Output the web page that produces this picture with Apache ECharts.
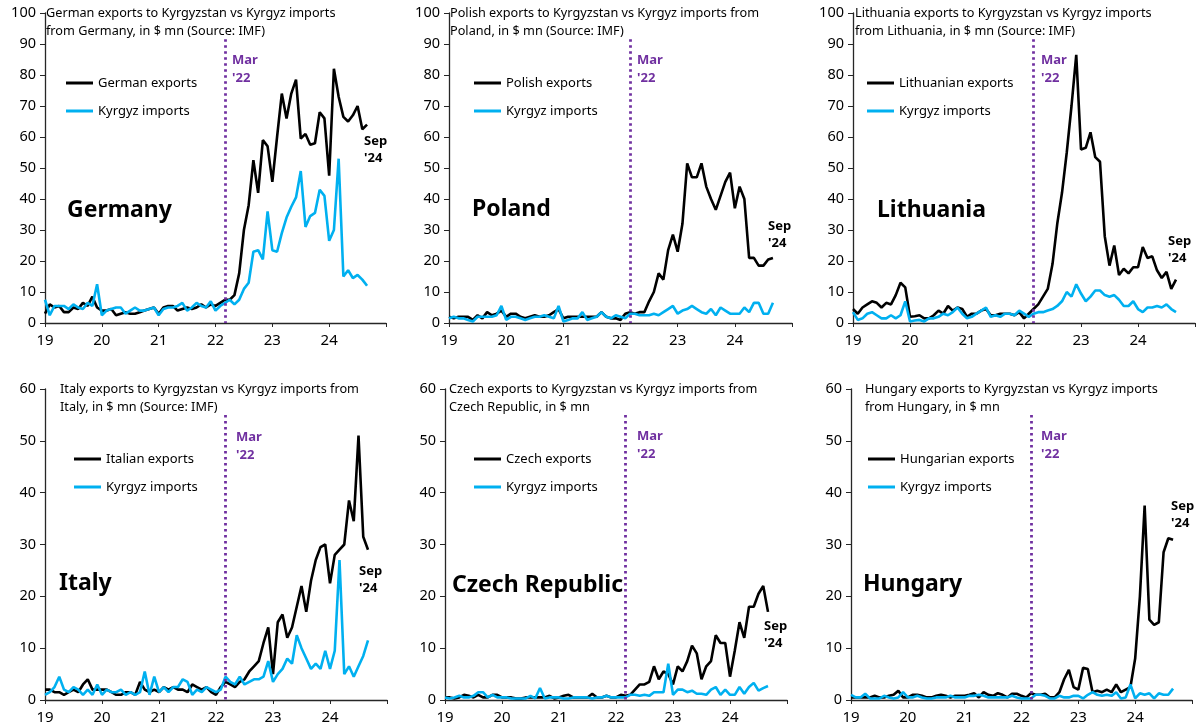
<!DOCTYPE html>
<html>
<head>
<meta charset="utf-8">
<script src="https://cdn.jsdelivr.net/npm/echarts@6/dist/echarts.min.js"></script>
<style>
  html, body { margin: 0; padding: 0; background: #fff; }
  #chart { width: 1200px; height: 725px; }
</style>
</head>
<body>
<div id="chart"></div>
<script>
// monthly values, Jan 2019 .. Sep 2024 (index 0..68), $ mn
const yearLabels = ["19", "20", "21", "22", "23", "24"];
const marchIndex = 38; // Mar '22

const germanyExports = [
  3, 6, 5, 5.5, 3.5, 3.5, 5, 4.5, 6.5, 5.5, 8.5, 5,
  4, 4, 4.5, 2.5, 3, 3.5, 3, 3, 3.5, 4, 4.5, 5,
  3, 5, 5.5, 5.5, 4, 4.5, 5, 4.5, 5, 6, 5, 6,
  5.5, 6.5, 7.5, 7.5, 9, 16, 30, 38, 52.5, 42, 59, 57,
  45.5, 60, 74, 66, 74, 78.5, 59.5, 61, 57.5, 58, 68, 66,
  47.5, 82, 73, 66.5, 65, 67, 70, 62.5, 64
];
const germanyImports = [
  7.5, 2.5, 5.5, 5.5, 5.5, 4.5, 6, 5, 4.5, 6.5, 5.5, 12.5,
  2.5, 4, 4.5, 5, 5, 3, 4, 5, 4, 4, 4.5, 5,
  2.5, 4.5, 5, 5, 5.5, 6.5, 4, 5, 6.5, 5.5, 5, 7,
  4, 5.5, 6.5, 7.5, 6, 7.5, 11, 13, 23, 23.5, 20.5, 36,
  23.5, 23, 29, 34, 37.5, 40.5, 49, 31, 34.5, 35.5, 43, 41,
  26.5, 30, 53, 15, 17, 14.5, 15.5, 14, 12
];
const polandExports = [
  2, 1.5, 2, 2, 2, 1, 2.5, 1.5, 3.5, 2.5, 3, 4,
  2, 3, 3, 2, 1.5, 2, 2.5, 2, 2, 2.5, 3.5, 4.5,
  1.5, 2, 2, 2, 2, 2, 2, 2, 3.5, 2, 1.5, 1.5,
  1, 3, 3.5, 3, 3.5, 3.5, 7, 10, 16, 14, 23.5, 28.5,
  23, 32, 51.5, 47, 47, 51.5, 44, 40, 36.5, 41, 45.5, 48.5,
  37, 44, 40, 21, 21, 18.5, 18.5, 20.5, 21
];
const polandImports = [
  1.5, 2, 1.5, 1.5, 1, 0.5, 2, 2, 2, 2, 2.5, 5.5,
  1, 2, 2, 1.5, 1, 1.5, 2, 2, 2.5, 2, 1.5, 5.5,
  0.5, 1, 1.5, 1.5, 3.5, 1, 1.5, 2, 3.5, 2, 1.5, 2.5,
  2, 1.5, 3, 3, 2.5, 2.5, 2.5, 3, 2.5, 3.5, 4.5, 5.5,
  3, 4, 4.5, 5.5, 4.5, 3.5, 3, 4.5, 2.5, 5, 4, 3,
  3, 3, 5, 3.5, 6.5, 6.5, 3, 3, 6.5
];
const lithuaniaExports = [
  4.5, 3, 5, 6, 7, 6.5, 5, 6.5, 6, 9, 13, 11.5,
  2, 2.2, 2.5, 1.5, 1.5, 2.5, 4, 3, 5.5, 4, 5, 4.5,
  2, 3, 3, 4, 4.5, 2.5, 2.5, 3, 3, 3, 2.5, 3.5,
  1.5, 3, 4.5, 6, 8.5, 11, 19, 32, 42, 55, 70, 86.5,
  56, 56.5, 61.5, 53.5, 52, 28, 18.5, 25, 15.5, 17.5, 16, 18,
  18, 24.5, 21, 21.5, 17, 14.5, 16.5, 11, 14
];
const lithuaniaImports = [
  3.5, 1, 1.5, 3, 3.5, 2.5, 1.5, 1.5, 2.5, 1.5, 2.5, 7,
  0.5, 0.8, 1, 0.5, 1.5, 1.5, 2, 3, 2.5, 3.5, 5, 3,
  1.5, 2, 3, 4, 5, 2, 2.5, 2, 3, 3, 2.5, 4,
  3, 2, 3, 3.5, 3.5, 4, 4.5, 5.5, 7, 10, 8.5, 12.5,
  9.5, 7, 8.5, 10.5, 10.5, 9, 8.5, 9, 7.5, 5.5, 5.5, 7,
  4.5, 3.5, 5, 5, 5.5, 5, 6, 4.5, 3.5
];
const italyExports = [
  2, 2, 1.5, 1.5, 1, 1.5, 2, 1.5, 3, 4, 2, 2,
  2, 2, 1.5, 1, 1, 1.5, 1.5, 1, 3.5, 2, 1.5, 2,
  1.5, 2.5, 2, 2.5, 2, 2, 1.5, 3, 2.5, 2, 2.5, 1.5,
  1, 2.5, 3.5, 3, 2.5, 3.5, 4, 5.5, 6.5, 7.5, 11, 14,
  5, 15, 16.5, 12, 14, 18, 22, 17, 23, 27, 29.5, 30,
  22.5, 28, 29, 30, 38.5, 34.5, 51, 31.5, 29
];
const italyImports = [
  1, 1.5, 2.5, 4.5, 2, 1.5, 2.5, 2, 1, 2, 1, 3,
  1, 2, 1.5, 1.5, 2, 1, 1.5, 1, 1.5, 5.5, 1, 4.5,
  1.5, 2.5, 1.5, 2.5, 2.5, 4, 3.5, 1, 2, 1.5, 2.5, 2,
  1.5, 2, 4.5, 3.5, 3, 4.5, 3, 3.5, 4, 4, 4.5, 7.5,
  3.5, 5, 6, 8, 7, 12.5, 10, 8, 6, 7, 6, 9.5,
  6, 9.5, 27, 5, 6.5, 4.5, 6.5, 8.5, 11.5
];
const czechExports = [
  0.5, 0.5, 0.3, 0.5, 1, 0.8, 0.5, 1, 0.5, 0.5, 1, 1,
  0.5, 0.5, 0.5, 0.3, 0.3, 0.5, 0.5, 0.5, 0.5, 0.5, 0.8, 0.3,
  0.5, 0.8, 1, 0.5, 0.5, 0.5, 0.5, 1.2, 0.5, 0.5, 0.8, 0.5,
  0.5, 1, 0.8, 1, 2, 3, 3, 3.5, 6.5, 4, 5.5, 5,
  3, 6.5, 5.5, 7.5, 10.5, 9, 4, 6.5, 7.5, 12.5, 11, 11,
  4.5, 9.5, 15, 12, 18, 18, 20.5, 22, 17
];
const czechImports = [
  0.5, 0.3, 0.5, 0.8, 0.5, 0.5, 0.8, 1.5, 1.5, 0.5, 1, 0.5,
  0.5, 0.5, 0.3, 0.3, 0.3, 0.3, 0.8, 0.3, 2.3, 0.3, 0.5, 0.5,
  0.5, 0.3, 0.3, 0.5, 0.5, 0.5, 0.5, 0.3, 0.5, 0.5, 0.8, 0.5,
  0.5, 0.5, 0.5, 1, 1, 0.8, 1, 0.8, 1.5, 1.5, 1.5, 7,
  1, 2, 2, 1.5, 1.8, 1.2, 1.2, 1, 2, 2.5, 1, 2,
  1, 1, 2.5, 1.2, 2.5, 3.3, 1.8, 2.3, 2.7
];
const hungaryExports = [
  0.5, 0.5, 0.5, 0.5, 0.5, 0.8, 0.5, 0.5, 0.8, 1, 1.8, 0.5,
  0.5, 1, 1, 0.8, 0.5, 0.5, 0.8, 1, 0.8, 0.5, 0.8, 0.8,
  0.8, 1, 1.3, 0.5, 1.5, 1, 0.8, 1.3, 1, 0.5, 1.2, 1.2,
  0.8, 0.5, 1.3, 1, 1, 1.2, 0.5, 0.5, 1.5, 4, 5.8, 2.5,
  2, 6.2, 6, 1.5, 1.8, 1.5, 2, 1.5, 3, 1.5, 2, 2.5,
  8, 20, 37.5, 15.5, 14.5, 15, 28.5, 31.2, 30.9
];
const hungaryImports = [
  1, 0.5, 0.5, 1.2, 0.3, 0.3, 0.3, 0.8, 0.5, 0.3, 0.5, 1.5,
  0.5, 0.5, 0.8, 0.5, 0.3, 0.3, 0.5, 0.5, 0.5, 0.8, 0.5, 0.5,
  0.5, 0.8, 0.8, 1, 0.8, 0.5, 0.5, 0.5, 0.5, 0.5, 0.8, 0.5,
  0.3, 0.3, 0.3, 1, 1, 0.8, 0.3, 0.3, 0.8, 0.5, 0.5, 0.8,
  0.8, 0.3, 1, 1.5, 1, 0.8, 1, 0.8, 1.5, 0.3, 0.5, 3,
  0.3, 1.3, 1, 1.3, 0.3, 1.3, 1, 1, 2.2
];

const panels = [
  { country: "Germany", expName: "German exports", exp: germanyExports, imp: germanyImports, yMax: 100, lineTop: 91.5,
    title: "German exports to Kyrgyzstan vs Kyrgyz imports\nfrom Germany, in $ mn (Source: IMF)" },
  { country: "Poland", expName: "Polish exports", exp: polandExports, imp: polandImports, yMax: 100, lineTop: 91.5,
    title: "Polish exports to Kyrgyzstan vs Kyrgyz imports from\nPoland, in $ mn (Source: IMF)" },
  { country: "Lithuania", expName: "Lithuanian exports", exp: lithuaniaExports, imp: lithuaniaImports, yMax: 100, lineTop: 91.5,
    title: "Lithuania exports to Kyrgyzstan vs Kyrgyz imports\nfrom Lithuania, in $ mn (Source: IMF)" },
  { country: "Italy", expName: "Italian exports", exp: italyExports, imp: italyImports, yMax: 60, lineTop: 55,
    title: "Italy exports to Kyrgyzstan vs Kyrgyz imports from\nItaly, in $ mn (Source: IMF)" },
  { country: "Czech Republic", expName: "Czech exports", exp: czechExports, imp: czechImports, yMax: 60, lineTop: 55,
    title: "Czech exports to Kyrgyzstan vs Kyrgyz imports from\nCzech Republic, in $ mn" },
  { country: "Hungary", expName: "Hungarian exports", exp: hungaryExports, imp: hungaryImports, yMax: 60, lineTop: 55,
    title: "Hungary exports to Kyrgyzstan vs Kyrgyz imports\nfrom Hungary, in $ mn" }
];

// layout of each panel (pixels)
const layout = [
  { grid: [45, 13, 341, 310], title: [46, 4], legend: [66, 75], country: [67, 210], mar: [232, 51], sep: [364, 133] },
  { grid: [449, 13, 343, 310], title: [450, 4], legend: [474, 75], country: [472, 209], mar: [637, 51], sep: [768, 218] },
  { grid: [853, 13, 342, 310], title: [855, 4], legend: [867, 75], country: [877, 210], mar: [1041, 51], sep: [1168, 233] },
  { grid: [45, 389, 342, 311], title: [60, 380], legend: [74, 451], country: [59, 583], mar: [236, 428], sep: [359, 563] },
  { grid: [445, 389, 342, 311], title: [449, 380], legend: [474, 451], country: [452, 585], mar: [637, 427], sep: [764, 618] },
  { grid: [851, 389, 341, 311], title: [865, 380], legend: [868, 451], country: [863, 584], mar: [1041, 427], sep: [1171, 498] }
];

const FONT = "Noto Sans";
const BLACK = "#000000";
const CYAN = "#00B0F0";
const PURPLE = "#7030A0";
const AXIS = "#262626";

const toPoints = (arr) => arr.map((v, i) => [i, v]);

const grids = [], xAxes = [], yAxes = [], series = [], titles = [], legends = [], graphics = [];

panels.forEach((p, k) => {
  const L = layout[k];
  grids.push({ left: L.grid[0], top: L.grid[1], width: L.grid[2], height: L.grid[3] });
  xAxes.push({
    type: "value", gridIndex: k, min: 0, max: 72, interval: 12,
    axisLine: { lineStyle: { color: AXIS, width: 1.3 } },
    axisTick: { show: true, length: 4, lineStyle: { color: AXIS } },
    splitLine: { show: false },
    axisLabel: {
      color: "#000", fontFamily: FONT, fontSize: 15, margin: 10,
      formatter: (v) => yearLabels[v / 12] || ""
    }
  });
  yAxes.push({
    type: "value", gridIndex: k, min: 0, max: p.yMax, interval: 10,
    axisLine: { show: true, lineStyle: { color: AXIS, width: 1.3 } },
    axisTick: { show: true, length: 5, lineStyle: { color: AXIS } },
    splitLine: { show: false },
    axisLabel: { color: "#000", fontFamily: FONT, fontSize: 14.5, margin: 9 }
  });
  series.push({
    name: p.expName, type: "line", xAxisIndex: k, yAxisIndex: k,
    data: toPoints(p.exp), showSymbol: false, color: BLACK,
    lineStyle: { color: BLACK, width: 2.6 },
    markLine: {
      silent: true, symbol: "none", label: { show: false },
      lineStyle: { color: PURPLE, type: [2.5, 3.5], width: 2.8 },
      data: [[{ coord: [marchIndex, p.lineTop] }, { coord: [marchIndex, 0] }]]
    }
  });
  series.push({
    name: "Kyrgyz imports", type: "line", xAxisIndex: k, yAxisIndex: k,
    data: toPoints(p.imp), showSymbol: false, color: CYAN,
    lineStyle: { color: CYAN, width: 2.6 }
  });
  titles.push({
    text: p.title, left: L.title[0], top: L.title[1], padding: 0,
    textStyle: { fontFamily: FONT, fontSize: 12.7, fontWeight: "normal", color: "#000", lineHeight: 18 }
  });
  legends.push({
    data: [p.expName, "Kyrgyz imports"], orient: "vertical",
    left: L.legend[0], top: L.legend[1], padding: 0,
    icon: "rect", itemWidth: 27, itemHeight: 3, itemGap: 12,
    selectedMode: false,
    textStyle: { fontFamily: FONT, fontSize: 13, color: "#000", lineHeight: 16 }
  });
  graphics.push({
    type: "text", x: L.country[0], y: L.country[1],
    style: { text: p.country, fontFamily: FONT, fontSize: 23, fontWeight: "bold", fill: "#000", verticalAlign: "middle" }
  });
  graphics.push({
    type: "text", x: L.mar[0], y: L.mar[1],
    style: { text: "Mar\n'22", fontFamily: FONT, fontSize: 13, fontWeight: "bold", fill: PURPLE, lineHeight: 18, verticalAlign: "top" }
  });
  graphics.push({
    type: "text", x: L.sep[0], y: L.sep[1],
    style: { text: "Sep\n'24", fontFamily: FONT, fontSize: 13, fontWeight: "bold", fill: "#000", lineHeight: 17, verticalAlign: "top" }
  });
});

const chart = echarts.init(document.getElementById("chart"), null, { renderer: "canvas" });
chart.setOption({
  animation: false,
  backgroundColor: "#fff",
  title: titles,
  legend: legends,
  grid: grids,
  xAxis: xAxes,
  yAxis: yAxes,
  series: series,
  graphic: graphics
});
</script>
</body>
</html>
